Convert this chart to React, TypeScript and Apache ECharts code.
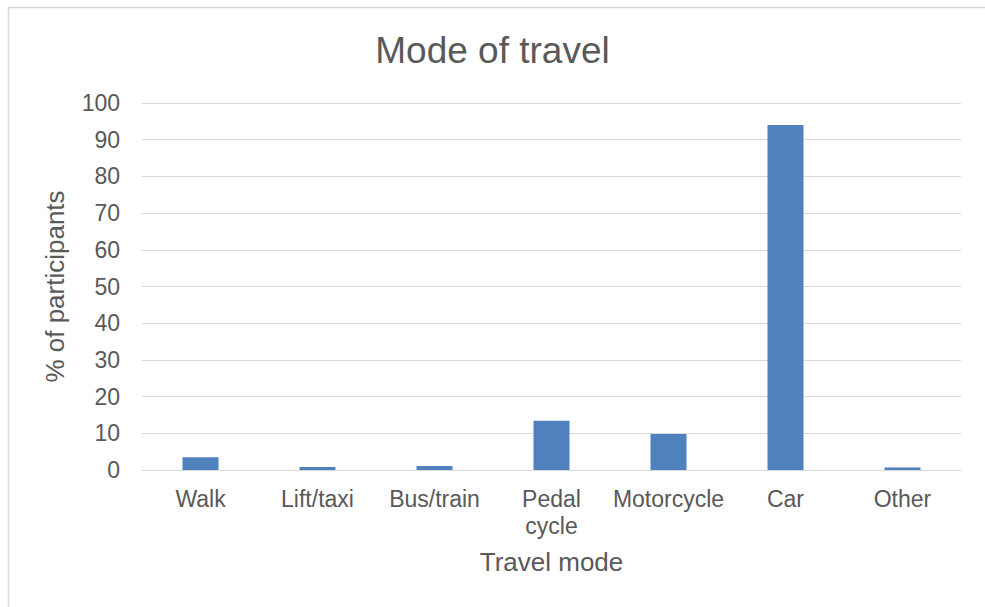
import React, { useEffect, useRef } from "react";
import * as echarts from "echarts";

const categories = ["Walk", "Lift/taxi", "Bus/train", "Pedal\ncycle", "Motorcycle", "Car", "Other"];
const values = [3.5, 0.8, 1.1, 13.4, 9.8, 94.0, 0.7];
const yTicks = [0, 10, 20, 30, 40, 50, 60, 70, 80, 90, 100];

const FONT = "'Liberation Sans', Arial, sans-serif";
const TEXT = "#595959";

export default function App() {
  const ref = useRef<HTMLDivElement>(null);
  useEffect(() => {
    if (!ref.current) return;
    const chart = echarts.init(ref.current, null, { renderer: "svg" });
    chart.setOption({
      animation: false,
      backgroundColor: "#ffffff",
      textStyle: { fontFamily: FONT },
      title: {
        text: "Mode of travel",
        left: "center",
        top: 27,
        textStyle: { fontFamily: FONT, fontSize: 37, fontWeight: "normal", color: TEXT },
      },
      graphic: [
        {
          type: "rect",
          shape: { x: 8.5, y: 7.5, width: 2000, height: 1000 },
          style: { fill: "none", stroke: "#D9D9D9", lineWidth: 1.5 },
          silent: true,
        },
      ],
      grid: { left: 142, right: 24, top: 103, bottom: 137, containLabel: false },
      xAxis: {
        type: "category",
        data: categories,
        name: "Travel mode",
        nameLocation: "middle",
        nameGap: 79,
        nameTextStyle: { fontFamily: FONT, fontSize: 26, color: TEXT },
        axisLine: { show: true, lineStyle: { color: "#D9D9D9", width: 1 } },
        axisTick: { show: false },
        axisLabel: {
          interval: 0,
          fontFamily: FONT,
          fontSize: 23,
          color: TEXT,
          margin: 15,
          lineHeight: 27,
        },
      },
      yAxis: {
        type: "value",
        min: 0,
        max: 100,
        interval: 10,
        name: "% of participants",
        nameLocation: "middle",
        nameGap: 74,
        nameTextStyle: { fontFamily: FONT, fontSize: 26, color: TEXT },
        axisLine: { show: false },
        axisTick: { show: false },
        splitLine: { show: true, lineStyle: { color: "#D9D9D9", width: 1 } },
        axisLabel: {
          fontFamily: FONT,
          fontSize: 23,
          color: TEXT,
          margin: 22,
          formatter: (v: number) => (yTicks.includes(v) ? String(v) : ""),
        },
      },
      series: [
        {
          type: "bar",
          data: values,
          barWidth: 36,
          itemStyle: { color: "#4F81BD" },
        },
      ],
    });
    return () => chart.dispose();
  }, []);
  return (
    <div
      ref={ref}
      style={{ position: "fixed", left: 0, top: 0, width: 985, height: 607 }}
    />
  );
}
